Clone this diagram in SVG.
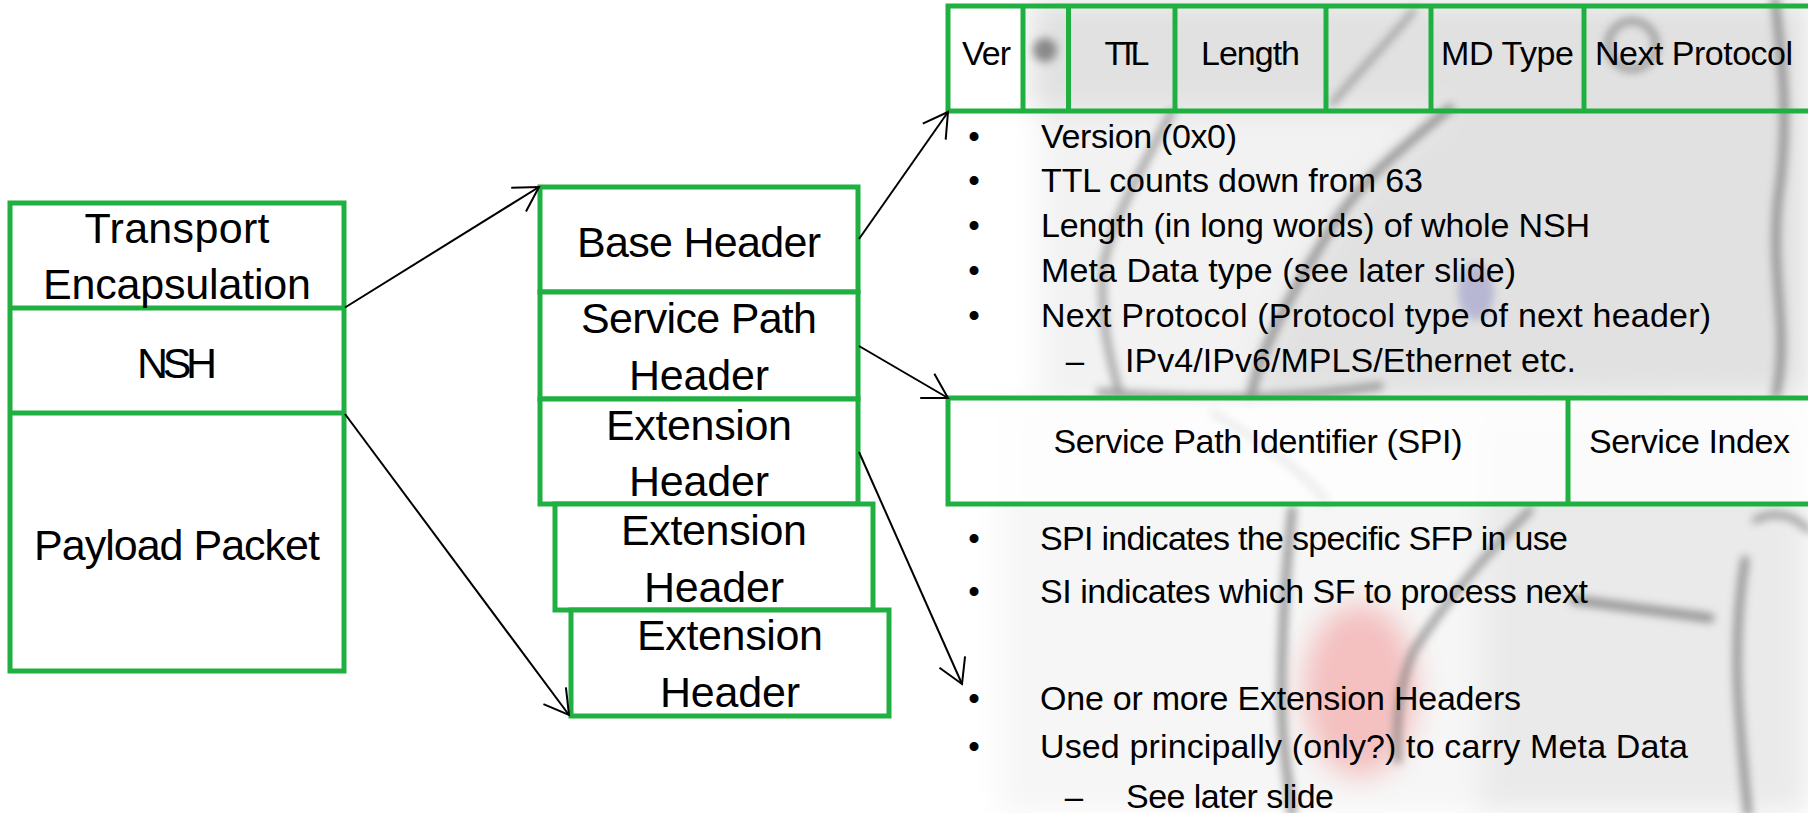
<svg xmlns="http://www.w3.org/2000/svg" width="1808" height="813" viewBox="0 0 1808 813">
  <defs>
    <style>
      .frame{fill:#fff;stroke:#1fb041;stroke-width:5;stroke-linejoin:miter}
      .open{fill:none;stroke:#1fb041;stroke-width:5}
      .rule{stroke:#1fb041;stroke-width:5}
      .big{font-family:"Liberation Sans",Arial,sans-serif;font-size:43px;fill:#000;text-anchor:middle}
      .lbl{font-family:"Liberation Sans",Arial,sans-serif;font-size:34px;fill:#000}
      .dot{font-family:"Liberation Sans",Arial,sans-serif;font-size:33px;fill:#000;text-anchor:middle}
      .conn{fill:none;stroke:#000;stroke-width:2;marker-end:url(#vee)}
      .ink{fill:none;stroke:#737373;stroke-linecap:round}
    </style>
    <marker id="vee" markerUnits="userSpaceOnUse" viewBox="-30 -20 40 40" markerWidth="40" markerHeight="40" refX="0" refY="0" orient="auto" overflow="visible">
      <path d="M-24,-14 L0,0 L-24,14" fill="none" stroke="#000" stroke-width="2"/>
    </marker>
    <filter id="haze" x="-20%" y="-20%" width="140%" height="140%">
      <feGaussianBlur stdDeviation="14"/>
    </filter>
    <filter id="smudge" x="-20%" y="-20%" width="140%" height="140%">
      <feGaussianBlur stdDeviation="4"/>
    </filter>
  </defs>

  <rect width="1808" height="813" fill="#fff"/>

  <!-- faded backdrop picture behind the field tables -->
  <g id="backdrop">
    <g filter="url(#haze)">
      <path d="M1030,0 L1808,0 L1808,395 L1250,400 C1262,340 1300,280 1330,230 C1360,180 1400,150 1450,110 L1030,110 Z" fill="#e1e1e1"/>
      <path d="M1040,110 L1450,110 C1400,150 1360,180 1330,230 C1300,280 1262,340 1250,400 L1040,400 Z" fill="#f2f2f2"/>
      <path d="M1000,400 L1808,400 L1808,813 L1000,813 Z" fill="#f6f6f6"/>
      <path d="M1480,420 L1808,420 L1808,813 L1480,813 Z" fill="#eaeaea"/>
      <ellipse cx="1360" cy="690" rx="58" ry="88" fill="#f3a3a3" opacity="0.65"/>
    </g>
    <g filter="url(#smudge)" opacity="0.75">
      <circle cx="1045" cy="50" r="12" fill="#6a6a6a"/>
      <ellipse cx="1476" cy="292" rx="18" ry="28" fill="#a9a9cf"/>
      <path class="ink" stroke-width="5" d="M1332,104 C1360,70 1390,40 1414,10"/>
      <circle class="ink" stroke-width="6" cx="1632" cy="45" r="24"/>
      <path class="ink" stroke-width="8" d="M1450,108 C1400,150 1360,180 1330,230 C1300,280 1262,340 1250,400"/>
      <path class="ink" stroke-width="6" d="M1172,112 C1140,170 1108,230 1103,270 C1100,320 1110,360 1120,395"/>
      <path class="ink" stroke-width="7" d="M1100,392 C1200,402 1300,398 1380,386"/>
      <path class="ink" stroke-width="7" d="M1213,413 C1260,440 1300,470 1326,500"/>
      <path class="ink" stroke-width="8" d="M1292,510 C1285,580 1280,650 1282,720 C1284,760 1290,790 1292,813"/>
      <path class="ink" stroke-width="7" d="M1530,510 C1480,560 1440,610 1414,650 C1400,680 1395,720 1398,760"/>
      <path class="ink" stroke-width="9" d="M1574,600 L1710,618"/>
      <path class="ink" stroke-width="8" d="M1745,560 C1730,650 1740,730 1748,813"/>
      <path class="ink" stroke-width="8" d="M1775,0 C1782,60 1790,120 1778,200 C1770,280 1790,330 1776,395"/>
      <path class="ink" stroke-width="6" d="M1755,520 C1775,510 1795,515 1808,530"/>
    </g>
  </g>

  <!-- outer packet -->
  <g id="packet">
    <rect class="frame" x="10" y="203" width="334" height="468"/>
    <line class="rule" x1="10" y1="308" x2="344" y2="308"/>
    <line class="rule" x1="10" y1="413" x2="344" y2="413"/>
    <text class="big" x="177" y="243" textLength="185">Transport</text>
    <text class="big" x="177" y="299" textLength="268">Encapsulation</text>
    <text class="big" x="177" y="378" textLength="80">NSH</text>
    <text class="big" x="177" y="560" textLength="286">Payload Packet</text>
  </g>

  <!-- NSH header stack -->
  <g id="base-header">
    <rect class="frame" x="540" y="187" width="318" height="105"/>
    <text class="big" x="699" y="257" textLength="244">Base Header</text>
  </g>
  <g id="service-path-header">
    <rect class="frame" x="540" y="292" width="318" height="107"/>
    <text class="big" x="699" y="333" textLength="236">Service Path</text>
    <text class="big" x="699" y="390" textLength="140">Header</text>
  </g>
  <g id="extension-header-1">
    <rect class="frame" x="540" y="399" width="318" height="105"/>
    <text class="big" x="699" y="440" textLength="186">Extension</text>
    <text class="big" x="699" y="496" textLength="140">Header</text>
  </g>
  <g id="extension-header-2">
    <rect class="frame" x="555" y="504" width="318" height="106"/>
    <text class="big" x="714" y="545" textLength="186">Extension</text>
    <text class="big" x="714" y="602" textLength="140">Header</text>
  </g>
  <g id="extension-header-3">
    <rect class="frame" x="571" y="610" width="318" height="106"/>
    <text class="big" x="730" y="650" textLength="186">Extension</text>
    <text class="big" x="730" y="707" textLength="140">Header</text>
  </g>

  <!-- base header fields -->
  <g id="base-fields">
    <rect x="948" y="6" width="75" height="105" fill="#fff"/>
    <rect class="open" x="948" y="6" width="900" height="105"/>
    <line class="rule" x1="1023" y1="6" x2="1023" y2="111"/>
    <line class="rule" x1="1068.5" y1="6" x2="1068.5" y2="111"/>
    <line class="rule" x1="1175" y1="6" x2="1175" y2="111"/>
    <line class="rule" x1="1326" y1="6" x2="1326" y2="111"/>
    <line class="rule" x1="1431" y1="6" x2="1431" y2="111"/>
    <line class="rule" x1="1584" y1="6" x2="1584" y2="111"/>
    <text class="lbl" x="962" y="65" textLength="49">Ver</text>
    <text class="lbl" x="1104.5" y="65" textLength="45">TTL</text>
    <text class="lbl" x="1201" y="65" textLength="99">Length</text>
    <text class="lbl" x="1441" y="65" textLength="133">MD Type</text>
    <text class="lbl" x="1595" y="65" textLength="198">Next Protocol</text>
  </g>

  <g id="base-notes">
    <text class="dot" x="974" y="148">•</text>
    <text class="lbl" x="1041" y="148" textLength="196">Version (0x0)</text>
    <text class="dot" x="974" y="192">•</text>
    <text class="lbl" x="1041" y="192" textLength="382">TTL counts down from 63</text>
    <text class="dot" x="974" y="237">•</text>
    <text class="lbl" x="1041" y="237" textLength="549">Length (in long words) of whole NSH</text>
    <text class="dot" x="974" y="282">•</text>
    <text class="lbl" x="1041" y="282" textLength="475">Meta Data type (see later slide)</text>
    <text class="dot" x="974" y="327">•</text>
    <text class="lbl" x="1041" y="327" textLength="670">Next Protocol (Protocol type of next header)</text>
    <text class="dot" x="1075" y="372">–</text>
    <text class="lbl" x="1125" y="372" textLength="451">IPv4/IPv6/MPLS/Ethernet etc.</text>
  </g>

  <!-- service path header fields -->
  <g id="service-path-fields">
    <rect x="948" y="398" width="900" height="106" fill="#fff" fill-opacity="0.8"/>
    <rect class="open" x="948" y="398" width="900" height="106"/>
    <line class="rule" x1="1568" y1="398" x2="1568" y2="504"/>
    <text class="lbl" x="1053.5" y="453" textLength="409">Service Path Identifier (SPI)</text>
    <text class="lbl" x="1589" y="453" textLength="201">Service Index</text>
  </g>

  <g id="service-path-notes">
    <text class="dot" x="974" y="550">•</text>
    <text class="lbl" x="1040" y="550" textLength="528">SPI indicates the specific SFP in use</text>
    <text class="dot" x="974" y="603">•</text>
    <text class="lbl" x="1040" y="603" textLength="548">SI indicates which SF to process next</text>
  </g>

  <g id="extension-notes">
    <text class="dot" x="974" y="710">•</text>
    <text class="lbl" x="1040" y="710" textLength="481">One or more Extension Headers</text>
    <text class="dot" x="974" y="758">•</text>
    <text class="lbl" x="1040" y="758" textLength="648">Used principally (only?) to carry Meta Data</text>
    <text class="dot" x="1074" y="808">–</text>
    <text class="lbl" x="1126" y="808" textLength="208">See later slide</text>
  </g>

  <!-- connectors -->
  <g id="connectors">
    <line class="conn" x1="345" y1="307.5" x2="539" y2="187"/>
    <line class="conn" x1="345" y1="414" x2="569" y2="715"/>
    <line class="conn" x1="859" y1="239" x2="948" y2="112"/>
    <line class="conn" x1="859" y1="346" x2="948" y2="398"/>
    <line class="conn" x1="859" y1="452" x2="962" y2="684"/>
  </g>
</svg>
